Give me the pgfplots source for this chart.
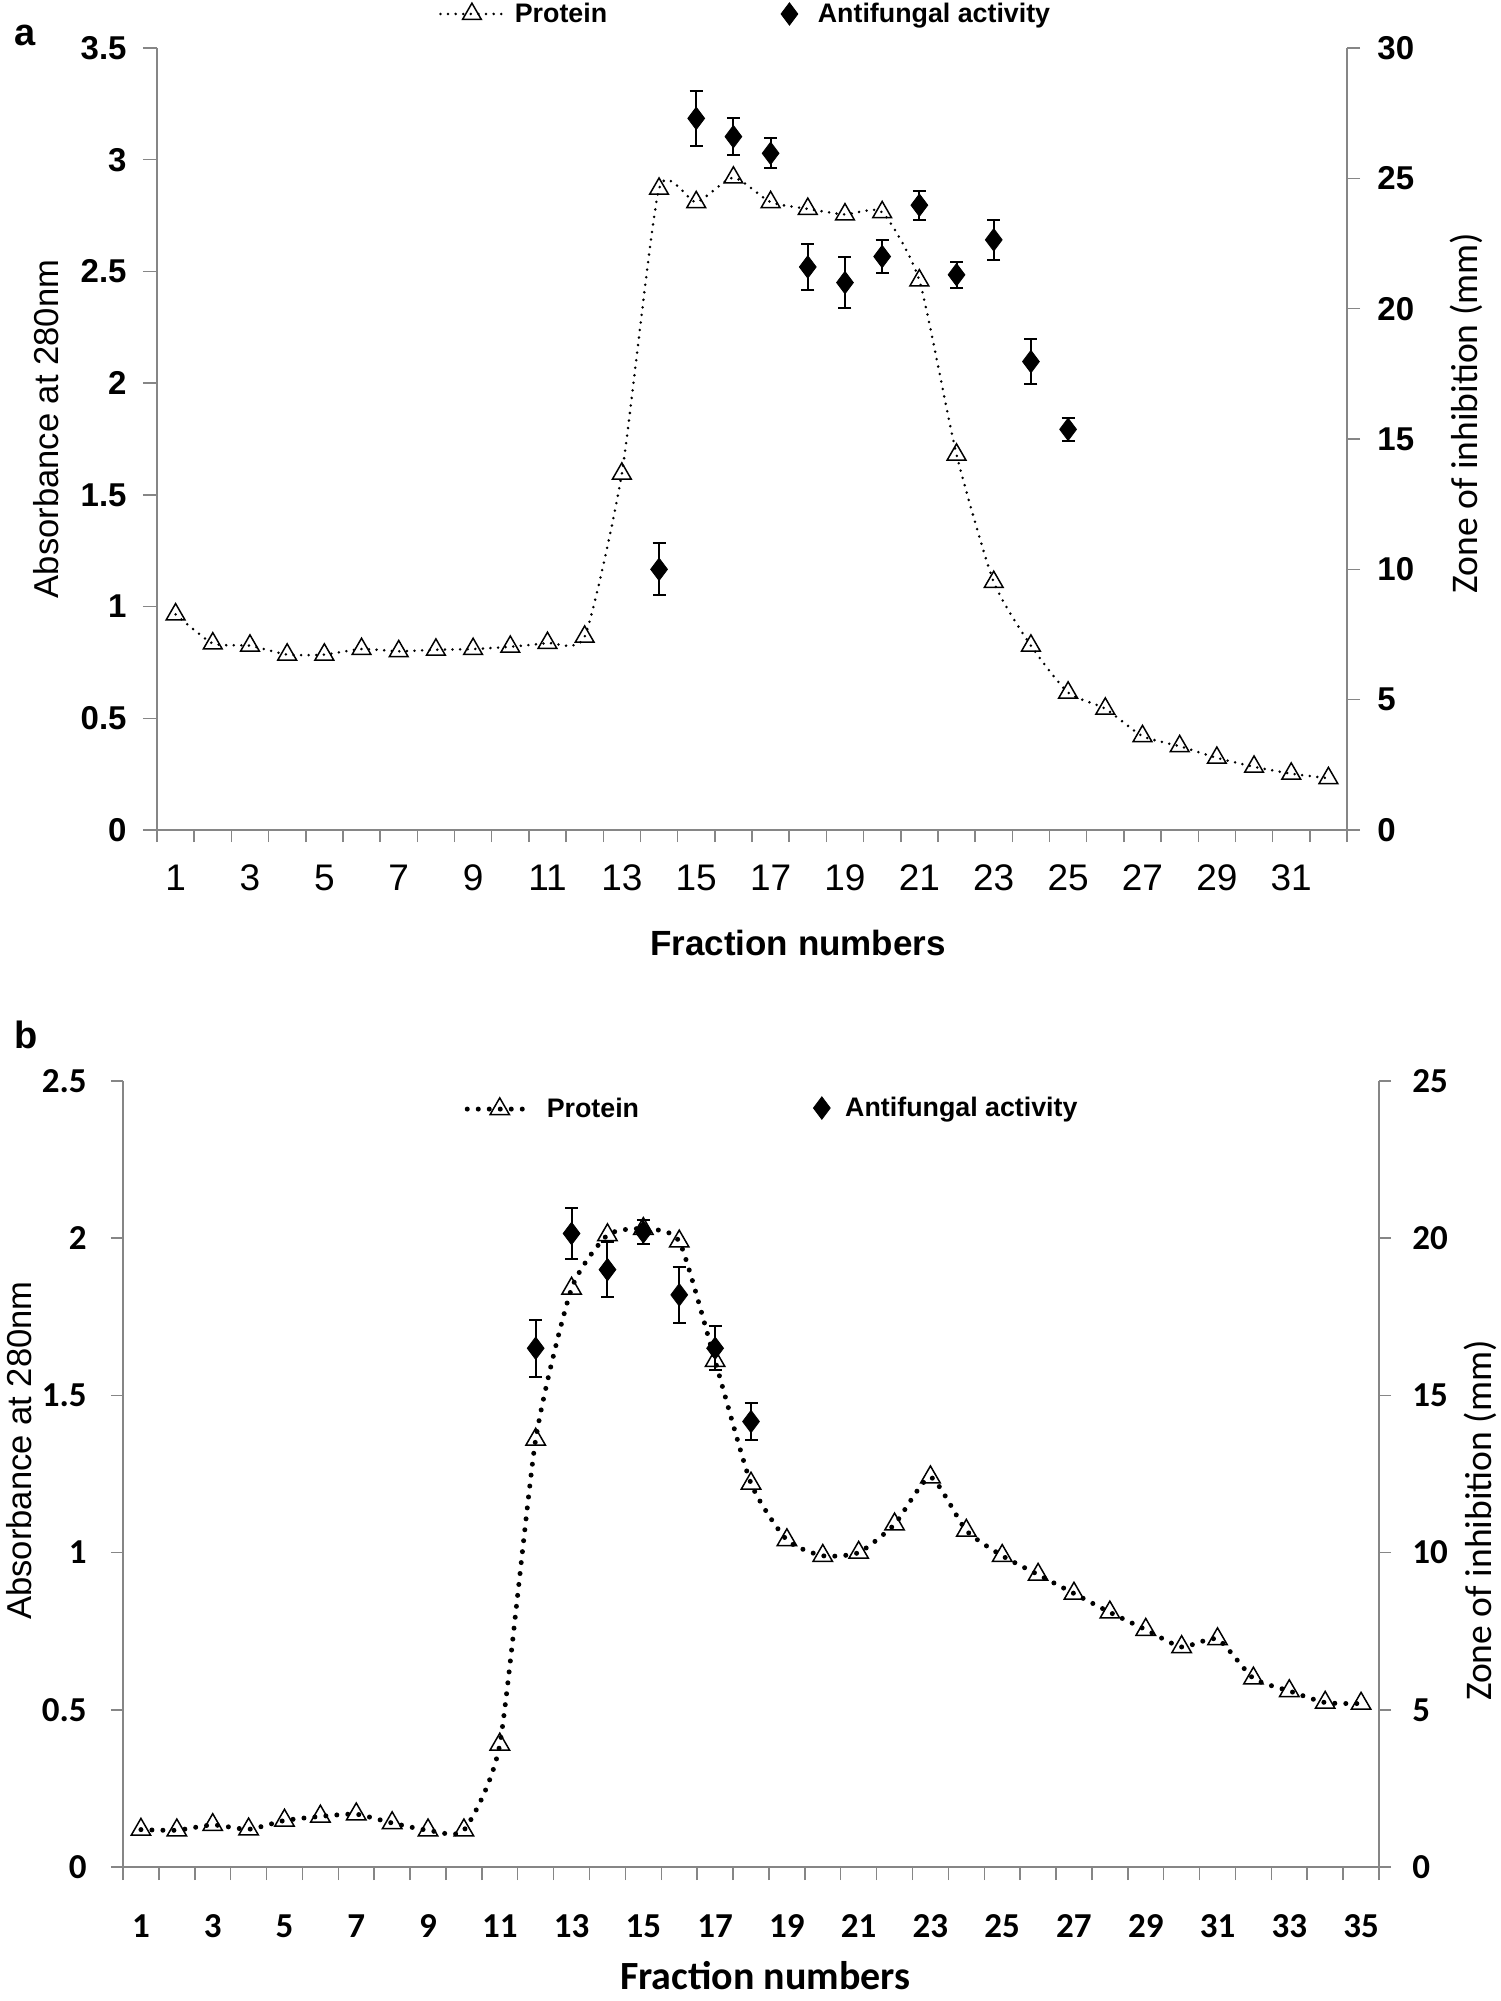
\documentclass[border=0pt]{standalone}
\usepackage{pgfplots}
\usepackage{pgfplotstable}
\pgfplotsset{compat=1.18}
\usepackage{fontspec}
\setmainfont{Liberation Sans}
\newfontfamily\carlito{Carlito}
\newcommand\fs[1]{\fontsize{#1}{#1}\selectfont}
\definecolor{axgray}{HTML}{868686}

\pgfplotstableread{
x y
1 0.965
2 0.835
3 0.825
4 0.785
5 0.785
6 0.81
7 0.80
8 0.807
9 0.81
10 0.82
11 0.837
12 0.865
13 1.595
14 2.87
15 2.81
16 2.92
17 2.81
18 2.78
19 2.755
20 2.765
21 2.46
22 1.68
23 1.11
24 0.825
25 0.615
26 0.543
27 0.42
28 0.375
29 0.323
30 0.283
31 0.252
32 0.232
}\protA

\pgfplotstableread{
x y e
14 10.0 1.0
15 27.3 1.05
16 26.6 0.7
17 25.96 0.57
18 21.6 0.9
19 21.0 0.97
20 22.0 0.64
21 23.97 0.55
22 21.3 0.5
23 22.64 0.76
24 17.97 0.86
25 15.37 0.45
}\antiA

\pgfplotstableread{
x y
1 0.119
2 0.117
3 0.134
4 0.12
5 0.148
6 0.161
7 0.168
8 0.14
9 0.117
10 0.117
11 0.39
12 1.36
13 1.84
14 2.01
15 2.03
16 1.99
17 1.61
18 1.22
19 1.04
20 0.99
21 1.00
22 1.09
23 1.24
24 1.07
25 0.99
26 0.93
27 0.87
28 0.81
29 0.755
30 0.70
31 0.725
32 0.60
33 0.56
34 0.523
35 0.52
}\protB

\pgfplotstableread{
x y e
12 16.5 0.9
13 20.15 0.8
14 19.0 0.87
15 20.2 0.38
16 18.2 0.89
17 16.5 0.7
18 14.17 0.58
}\antiB

\pgfplotsset{
  base/.style={
    scale only axis, clip=false,
    axis line style={axgray, line width=0.75pt},
    tick align=outside,
    major tick style={axgray, line width=0.75pt},
    minor tick style={axgray, line width=0.75pt},
  },
  protA legend/.style={legend image code/.code={\draw[##1, mark repeat=2, mark phase=2] plot coordinates {(0pt,0pt) (15.75pt,0pt) (31.5pt,0pt)};}},
  protB legend/.style={legend image code/.code={\draw[##1, mark repeat=2, mark phase=2] plot coordinates {(0pt,0pt) (16.25pt,0pt) (32.5pt,0pt)};}},
  mark legend/.style={legend image code/.code={\draw[##1] plot coordinates {(0pt,0pt)};}},
}

\begin{document}
\begin{tikzpicture}
\path[use as bounding box] (0,0) rectangle (750pt,-1000.5pt);

\node[anchor=base west, inner sep=0pt, font=\bfseries\fs{19pt}] at (7pt,-23pt) {a};
\node[anchor=base west, inner sep=0pt, font=\bfseries\fs{19pt}] at (7pt,-524pt) {b};

% ---------------- panel a, left axis ----------------
\begin{axis}[base,
  at={(78.5pt,-415pt)}, anchor=south west,
  width=595pt, height=391pt,
  xmin=0.5, xmax=32.5, ymin=0, ymax=3.5,
  axis x line*=bottom, axis y line*=left,
  xtick={1,3,...,31},
  xticklabels={1,3,5,7,9,11,13,15,17,19,21,23,25,27,29,31},
  minor xtick={0.5,1.5,...,32.5},
  major x tick style={draw=none},
  minor tick length=6pt, major tick length=7pt,
  xticklabel style={font=\fs{18.5pt}, anchor=center, inner sep=0pt, yshift=-17pt},
  ytick={0,0.5,...,3.5},
  yticklabels={0,0.5,1,1.5,2,2.5,3,3.5},
  yticklabel style={font=\bfseries\fs{16.5pt}, anchor=east, inner sep=0pt, xshift=-8pt},
  xlabel={Fraction numbers},
  every axis x label/.style={at={(axis description cs:0.5387,-0.1445)}, anchor=center, font=\bfseries\fs{17.5pt}},
  ylabel={Absorbance at 280nm},
  every axis y label/.style={at={(axis description cs:-0.0933,0.5128)}, anchor=center, rotate=90, font=\fs{17.3pt}},
  legend style={at={(axis description cs:0.237,1.0435)}, anchor=west, draw=none, fill=none,
    inner sep=0pt, outer sep=0pt, font=\bfseries\fs{13.4pt},
    nodes={inner sep=0pt, anchor=west}, column sep=5pt},
]
\addplot[black, line width=1.4pt, dash pattern=on 0pt off 3.8pt, line cap=round,
  smooth, tension=0.35, mark=triangle, mark size=5.4pt,
  mark options={solid, line width=0.75pt, black}, protA legend]
  table[x=x, y=y] {\protA};
\addlegendentry{Protein}
\end{axis}

% ---------------- panel a, right axis ----------------
\begin{axis}[base,
  at={(78.5pt,-415pt)}, anchor=south west,
  width=595pt, height=391pt,
  xmin=0.5, xmax=32.5, ymin=0, ymax=30,
  axis y line*=right, axis x line=none,
  major tick length=6.5pt,
  ytick={0,5,...,30},
  yticklabels={0,5,10,15,20,25,30},
  yticklabel style={font=\bfseries\fs{16.5pt}, anchor=west, inner sep=0pt, xshift=8.5pt},
  ylabel={Zone of inhibition (mm)},
  every axis y label/.style={at={(axis description cs:1.1,0.5332)}, anchor=center, rotate=90, font=\carlito\fs{18.8pt}},
  legend style={at={(axis description cs:0.5244,1.0435)}, anchor=west, draw=none, fill=none,
    inner sep=0pt, outer sep=0pt, font=\bfseries\fs{13.4pt},
    nodes={inner sep=0pt, anchor=west}, column sep=10pt},
]
\addplot[black, only marks, mark=diamond*, mark size=5.6pt, mark legend,
  error bars/.cd, y dir=both, y explicit,
  error mark options={rotate=90, black, line width=1pt, mark size=3.25pt},
  error bar style={black, line width=1pt}]
  table[x=x, y=y, y error=e] {\antiA};
\addlegendentry{Antifungal activity}
\end{axis}

% ---------------- panel b, left axis ----------------
\begin{axis}[base,
  at={(61.5pt,-933.5pt)}, anchor=south west,
  width=628pt, height=393pt,
  xmin=0.5, xmax=35.5, ymin=0, ymax=2.5,
  axis x line*=bottom, axis y line*=left,
  xtick={1,3,...,35},
  xticklabels={1,3,5,7,9,11,13,15,17,19,21,23,25,27,29,31,33,35},
  minor xtick={0.5,1.5,...,35.5},
  major x tick style={draw=none},
  minor tick length=6.5pt, major tick length=6pt,
  xticklabel style={font=\carlito\bfseries\fs{17.5pt}, anchor=center, inner sep=0pt, yshift=-23.5pt},
  ytick={0,0.5,...,2.5},
  yticklabels={0,0.5,1,1.5,2,2.5},
  yticklabel style={font=\carlito\bfseries\fs{17.5pt}, anchor=east, inner sep=0pt, xshift=-12pt},
  xlabel={Fraction numbers},
  every axis x label/.style={at={(axis description cs:0.5115,-0.138)}, anchor=center, font=\carlito\bfseries\fs{20pt}},
  ylabel={Absorbance at 280nm},
  every axis y label/.style={at={(axis description cs:-0.0827,0.53)}, anchor=center, rotate=90, font=\fs{17.3pt}},
  legend style={at={(axis description cs:0.2721,0.9643)}, anchor=west, draw=none, fill=none,
    inner sep=0pt, outer sep=0pt, font=\bfseries\fs{13.4pt},
    nodes={inner sep=0pt, anchor=west}, column sep=6pt},
]
\addplot[black, line width=2.5pt, dash pattern=on 0pt off 5.5pt, line cap=round,
  smooth, tension=0.35, mark=triangle, mark size=5.6pt,
  mark options={solid, line width=0.75pt, black}, protB legend]
  table[x=x, y=y] {\protB};
\addlegendentry{Protein}
\end{axis}

% ---------------- panel b, right axis ----------------
\begin{axis}[base,
  at={(61.5pt,-933.5pt)}, anchor=south west,
  width=628pt, height=393pt,
  xmin=0.5, xmax=35.5, ymin=0, ymax=25,
  axis y line*=right, axis x line=none,
  major tick length=6pt,
  ytick={0,5,...,25},
  yticklabels={0,5,10,15,20,25},
  yticklabel style={font=\carlito\bfseries\fs{17.5pt}, anchor=west, inner sep=0pt, xshift=10.5pt},
  ylabel={Zone of inhibition (mm)},
  every axis y label/.style={at={(axis description cs:1.0804,0.4408)}, anchor=center, rotate=90, font=\carlito\fs{18.8pt}},
  legend style={at={(axis description cs:0.5497,0.9656)}, anchor=west, draw=none, fill=none,
    inner sep=0pt, outer sep=0pt, font=\bfseries\fs{13.4pt},
    nodes={inner sep=0pt, anchor=west}, column sep=7.5pt},
]
\addplot[black, only marks, mark=diamond*, mark size=5.6pt, mark legend,
  error bars/.cd, y dir=both, y explicit,
  error mark options={rotate=90, black, line width=1pt, mark size=3.25pt},
  error bar style={black, line width=1pt}]
  table[x=x, y=y, y error=e] {\antiB};
\addlegendentry{Antifungal activity}
\end{axis}
\end{tikzpicture}
\end{document}
